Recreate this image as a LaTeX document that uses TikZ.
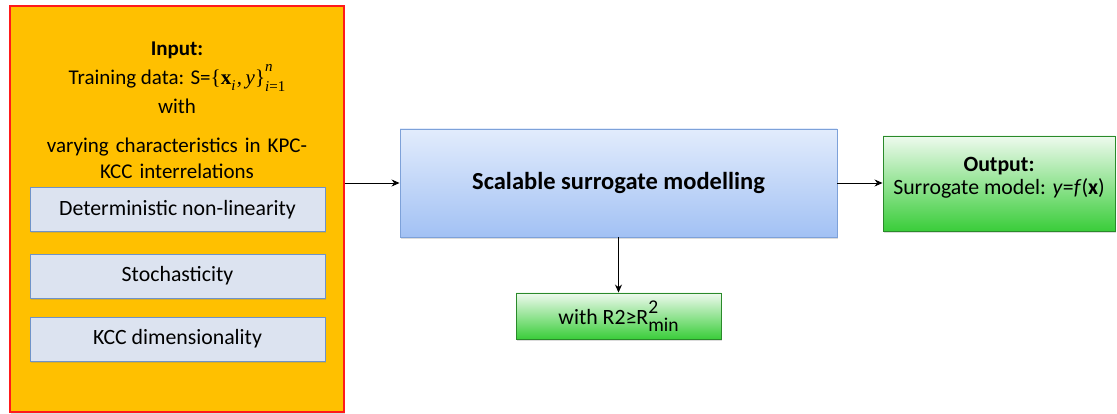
\documentclass[tikz,border=0pt]{standalone}
\usepackage{fontspec}
\setmainfont{Carlito}
\newfontfamily\mserif{Liberation Serif}
\usetikzlibrary{arrows.meta,shadows}
\definecolor{amber}{HTML}{FFC000}
\definecolor{boxred}{HTML}{FF1A1A}
\definecolor{pale}{HTML}{DCE3F0}
\definecolor{paleedge}{HTML}{6F93C9}
\definecolor{coretop}{HTML}{E2ECFC}
\definecolor{corebot}{HTML}{A2C1F4}
\definecolor{coreedge}{HTML}{7DA1D9}
\definecolor{greentop}{HTML}{EEFAEE}
\definecolor{greenbot}{HTML}{3ACD3A}
\definecolor{greenedge}{HTML}{2A8A2A}
\newcommand\bodysize{\fontsize{21.8}{26}\selectfont}
\newcommand\headsize{\fontsize{21}{26}\selectfont}
\newcommand\smallidx{\fontsize{15}{18}\selectfont}
\newcommand\critidx{\fontsize{19.5}{22}\selectfont}
% training set written with serif glyphs: S={x_i, y}_{i=1}^n
\newcommand\trainset{{\mserif\{\textbf{x}\raisebox{-0.28em}{\smallidx\itshape i}\kern1.5pt,\,\textit{y}\}\rlap{\raisebox{0.6em}{\smallidx\itshape n}}\raisebox{-0.32em}{\smallidx\itshape i\upshape =1}}}
\tikzset{
  soft/.style={drop shadow={opacity=0.28,shadow xshift=1.2pt,shadow yshift=-1.6pt}},
  inbox/.style={draw=boxred,line width=1.3pt,fill=amber,minimum width=334pt,minimum height=406pt,inner sep=0pt,soft},
  trait/.style={draw=paleedge,line width=0.9pt,fill=pale,minimum width=295pt,minimum height=44pt,inner sep=0pt,soft,font=\bodysize},
  corebox/.style={draw=coreedge,line width=0.9pt,top color=coretop,bottom color=corebot,minimum width=437pt,minimum height=108pt,inner sep=0pt,soft,font=\fontsize{24.5}{29}\selectfont\bfseries},
  greenbox/.style={draw=greenedge,line width=0.9pt,top color=greentop,bottom color=greenbot,inner sep=0pt,soft,font=\bodysize,align=center},
  label/.style={font=\bodysize,align=center,inner sep=0pt},
  headlabel/.style={font=\headsize,align=center,inner sep=0pt},
  flow/.style={-{Stealth[length=8pt,width=7pt]},line width=0.9pt,black}
}
\begin{document}
\begin{tikzpicture}[x=1pt,y=-1pt]
\useasboundingbox (0,0) rectangle (1117,414);
% input block with its three traits
\node[inbox] (input) at (177,209) {};
\node[headlabel,font=\headsize\bfseries] (intitle) at (177,50) {Input:};
\node[headlabel] (indata) at (177,78) {Training data: S=\trainset};
\node[headlabel] (inwith) at (177,106) {with};
\node[headlabel,text width=330pt] (invary) at (177,158) {varying characteristics in KPC-\\KCC interrelations};
\node[trait] (det) at (177.5,209.5) {Deterministic non-linearity};
\node[trait] (sto) at (177.5,276) {Stochasticity};
\node[trait] (dim) at (177.5,339) {KCC dimensionality};
% modelling core
\node[corebox] (core) at (618.5,183) {Scalable surrogate modelling};
% output
\node[greenbox,minimum width=232pt,minimum height=95pt] (out) at (999,183.5) {};
\node[label,font=\bodysize\bfseries] (outtitle) at (999,166) {Output:};
\node[label] (outmodel) at (999,188) {Surrogate model: \textit{y}=\textit{f}(\textbf{x})};
% accuracy criterion
\node[greenbox,minimum width=205pt,minimum height=46pt] (crit) at (618.5,316)
  {with R2≥R\rlap{\critidx\raisebox{11pt}{2}}{\critidx\raisebox{-7pt}{min}}};
% connectors
\draw[flow] (input.east |- core) -- (core.west);
\draw[flow] (core.east) -- (out.west |- core);
\draw[flow] (core.south) -- (crit.north);
\end{tikzpicture}
\end{document}
